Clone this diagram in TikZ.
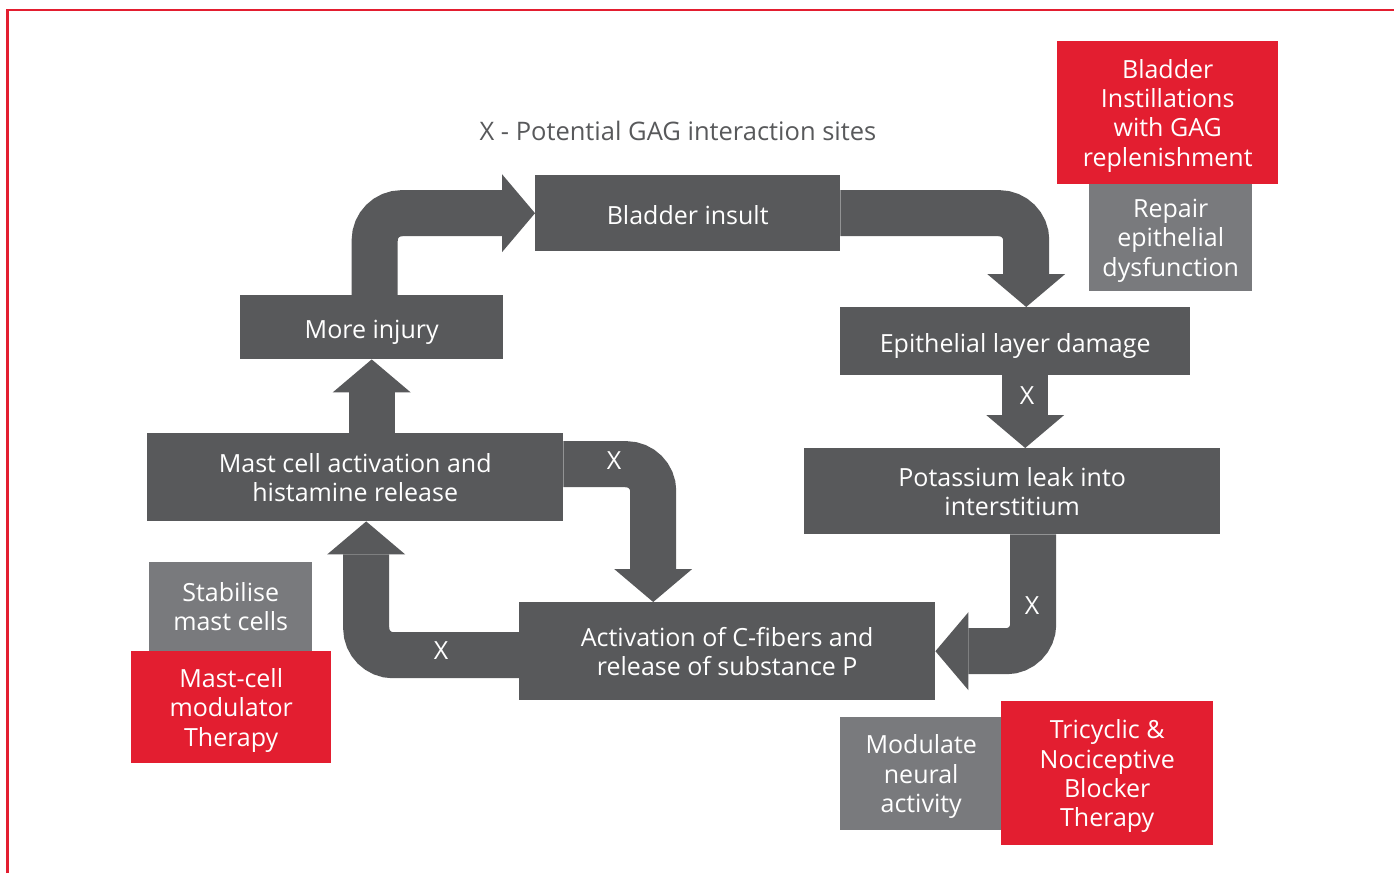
\documentclass[tikz,border=0pt]{standalone}
\usepackage{fontspec}
\setmainfont{Open Sans}
\usetikzlibrary{arrows.meta}
\definecolor{dkgray}{HTML}{58595B}
\definecolor{ltgray}{HTML}{797A7D}
\definecolor{tred}{HTML}{E31E30}

\begin{document}
\begin{tikzpicture}[x=1pt,y=-1pt,
  box/.style={fill=dkgray,text=white,inner sep=0pt,align=center,anchor=north west,text depth=0pt,
    execute at begin node={\rule{0pt}{23pt}},font=\fontsize{25}{29.3}\selectfont},
  redbox/.style={box,fill=tred},
  graybox/.style={box,fill=ltgray},
  flow/.style={draw=dkgray,line width=46pt,rounded corners=27pt,-{Triangle[width=78pt,length=33pt,line width=0pt]}},
  cross/.style={text=white,font=\fontsize{25}{29}\selectfont}]

\useasboundingbox (0,0) rectangle (1394,873);
\draw[tred,line width=2.5pt] (7.5,873) -- (7.5,10) -- (1394,10);

\node[box,minimum width=305,minimum height=76] (insult) at (535,175) {Bladder insult};
\node[box,minimum width=263,minimum height=64] (injury) at (240,295) {More injury};
\node[box,minimum width=350,minimum height=68] (epi) at (840,307) {Epithelial layer damage};
\node[box,minimum width=416,minimum height=86] (leak) at (804,448) {Potassium leak into\\interstitium};
\node[box,minimum width=416,minimum height=88] (mast) at (147,433) {Mast cell activation and\\histamine release};
\node[box,minimum width=416,minimum height=98] (fibers) at (519,602) {Activation of C-fibers and\\release of substance P};

\node[graybox,minimum width=163,minimum height=107] (repair) at (1089,184) {Repair\\epithelial\\dysfunction};
\node[redbox,minimum width=221,minimum height=143] (instil) at (1057,41) {Bladder\\Instillations\\with GAG\\replenishment};
\node[graybox,minimum width=163,minimum height=89] (stab) at (149,562) {Stabilise\\mast cells};
\node[redbox,minimum width=200,minimum height=112] (modul) at (131,651) {Mast-cell\\modulator\\Therapy};
\node[graybox,minimum width=162,minimum height=113] (neural) at (840,717) {Modulate\\neural\\activity};
\node[redbox,minimum width=212,minimum height=144] (tricyc) at (1001,701) {Tricyclic \&\\Nociceptive\\Blocker\\Therapy};

\draw[flow] ([xshift=3pt]injury.north) |- (insult.west);
\draw[flow] (insult.east) -| ([xshift=11pt]epi.north);
\draw[flow] ([xshift=10pt]epi.south) -- ([xshift=10pt]epi.south |- leak.north);
\draw[flow] ([xshift=21pt]leak.south) |- (fibers.east);
\draw[flow] ([yshift=-4pt]fibers.west) -| ([xshift=11pt]mast.south);
\draw[flow] ([yshift=13pt]mast.east) -| ([xshift=-74pt]fibers.north);
\draw[flow] (mast.north -| injury.south) -- (injury.south);

\node[cross] (x1) at (1027,396) {X};
\node[cross] (x2) at (614,461) {X};
\node[cross] (x3) at (1032,606) {X};
\node[cross] (x4) at (441,651) {X};

\node[text=dkgray,font=\fontsize{25.5}{29}\selectfont] (legend) at (678,131) {X - Potential GAG interaction sites};
\end{tikzpicture}
\end{document}
